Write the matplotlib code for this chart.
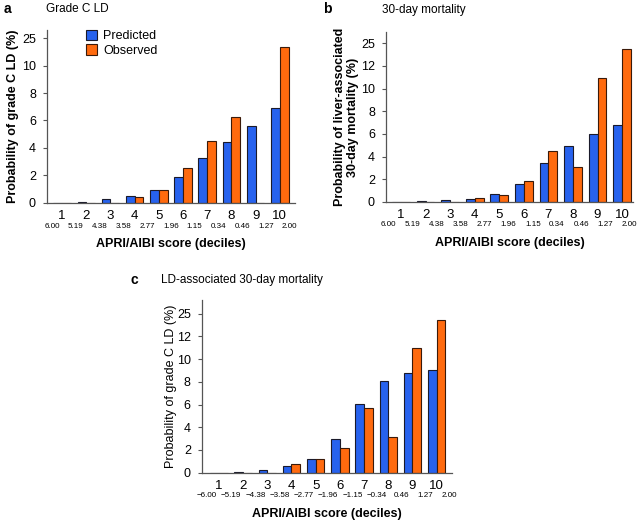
import numpy as np
import matplotlib
matplotlib.use("Agg")
import matplotlib.pyplot as plt

plt.rcParams['font.family'] = ['Liberation Sans', 'DejaVu Sans']

deciles = [1, 2, 3, 4, 5, 6, 7, 8, 9, 10]
score_labels_ab = ["6.00", "5.19", "4.38", "3.58", "2.77", "1.96", "1.15", "0.34", "0.46", "1.27", "2.00"]
score_labels_c = ["\u22126.00", "\u22125.19", "\u22124.38", "\u22123.58", "\u22122.77", "\u22121.96",
                  "\u22121.15", "\u22120.34", "0.46", "1.27", "2.00"]

# values expressed in the (broken) axis scale of each panel
a_pred = [0.0, 0.05, 0.25, 0.5, 0.97, 1.9, 3.3, 4.47, 5.6, 6.88]
a_obs = [0.0, 0.0, 0.0, 0.4, 0.95, 2.52, 4.54, 6.24, 0.0, 11.34]
a_ticks = [0, 2, 4, 6, 8, 10, 12]
a_ticklabels = ["0", "2", "4", "6", "8", "10", "25"]

b_pred = [0.0, 0.05, 0.15, 0.29, 0.7, 1.61, 3.43, 4.93, 5.95, 6.8]
b_obs = [0.0, 0.0, 0.0, 0.38, 0.62, 1.82, 4.52, 3.11, 10.97, 13.46]
b_ticks = [0, 2, 4, 6, 8, 10, 12, 14]
b_ticklabels = ["0", "2", "4", "6", "8", "10", "12", "25"]

c_pred = [0.0, 0.05, 0.22, 0.56, 1.21, 2.94, 6.06, 8.06, 8.76, 9.06]
c_obs = [0.0, 0.0, 0.0, 0.79, 1.24, 2.15, 5.71, 3.12, 11.0, 13.42]
c_ticks = [0, 2, 4, 6, 8, 10, 12, 14]
c_ticklabels = ["0", "2", "4", "6", "8", "10", "12", "25"]

BLUE = '#2762EE'
ORANGE = '#FF6A0E'

fig = plt.figure(figsize=(6.37, 5.23), dpi=100)

def panel(rect, pred, obs, ticks, ticklabels, ylim, xlim, score_labels, score_span, ylabel, ylabel_bold,
          ylabel_x, letter, title, letter_xy, title_xy, legend=False):
    ax = fig.add_axes(rect)
    x = np.array(deciles, dtype=float)
    w = 0.36
    ax.bar(x - w / 2, pred, width=w, color=BLUE, edgecolor='#1a1a2a', linewidth=0.8, label='Predicted')
    ax.bar(x + w / 2, obs, width=w, color=ORANGE, edgecolor='#3a1a0a', linewidth=0.8, label='Observed')
    ax.set_xlim(*xlim)
    ax.set_ylim(*ylim)
    ax.set_yticks(ticks)
    ax.set_yticklabels(ticklabels, fontsize=9)
    ax.set_xticks(x)
    ax.set_xticklabels([str(d) for d in deciles], fontsize=9.5)
    ax.tick_params(axis='x', length=0, pad=5)
    ax.tick_params(axis='y', length=3, width=0.8, pad=5, color='#555')
    for s in ['top', 'right']:
        ax.spines[s].set_visible(False)
    for s in ['left', 'bottom']:
        ax.spines[s].set_color('#555')
        ax.spines[s].set_linewidth(0.9)
    # score boundary labels
    pos = np.linspace(score_span[0], score_span[1], len(score_labels))
    for p, lab in zip(pos, score_labels):
        ax.text(p, -0.135, lab, transform=ax.get_xaxis_transform(), ha='center', va='center', fontsize=5.8)
    ax.text(0.5, -0.24, "APRI/AIBI score (deciles)", transform=ax.transAxes, ha='center', va='center',
            fontsize=9, fontweight='bold')
    ax.yaxis.set_label_coords(ylabel_x, 0.5)
    ax.set_ylabel(ylabel, fontsize=9, fontweight='bold' if ylabel_bold else 'normal', linespacing=1.1)
    fig.text(letter_xy[0], letter_xy[1], letter, fontsize=10, fontweight='bold', va='center')
    fig.text(title_xy[0], title_xy[1], title, fontsize=8.5, va='center')
    if legend:
        ax.legend(loc='upper left', bbox_to_anchor=(0.11, 1.065), frameon=False, fontsize=9,
                  handlelength=0.9, handleheight=0.9, handletextpad=0.5, labelspacing=0.15)
    return ax

panel([0.0738, 0.612, 0.389, 0.331], a_pred, a_obs, a_ticks, a_ticklabels, (0, 12.6), (0.38, 10.62),
      score_labels_ab, (0.59, 10.41), "Probability of grade C LD (%)", True, -0.115, "a", "Grade C LD",
      (0.005, 0.983), (0.072, 0.983), legend=True)

panel([0.606, 0.614, 0.388, 0.325], b_pred, b_obs, b_ticks, b_ticklabels, (0, 15.0), (0.39, 10.45),
      score_labels_ab, (0.47, 10.3), "Probability of liver-associated\n30-day mortality (%)", True, -0.11, "b",
      "30-day mortality", (0.507, 0.983), (0.6, 0.981))

panel([0.317, 0.0962, 0.392, 0.330], c_pred, c_obs, c_ticks, c_ticklabels, (0, 15.2), (0.3, 10.62),
      score_labels_c, (0.5, 10.54), "Probability of grade C LD (%)", False, -0.1, "c",
      "LD-associated 30-day mortality", (0.205, 0.465), (0.252, 0.465))

fig.savefig("out.png", dpi=100)
